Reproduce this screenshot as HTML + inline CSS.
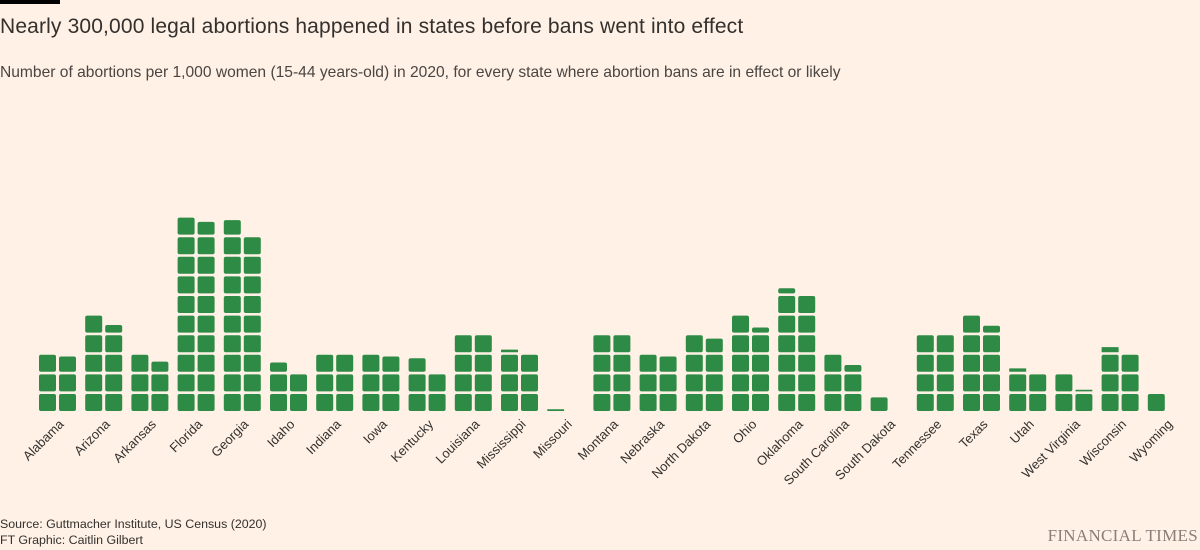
<!DOCTYPE html>
<html><head><meta charset="utf-8"><style>
body{margin:0;background:#fff1e5;font-family:"Liberation Sans",sans-serif;color:#33302e}
#wrap{position:relative;width:1200px;height:550px;overflow:hidden}
.t{position:absolute;white-space:nowrap}
</style></head><body>
<div id="wrap">
<div class="t" style="left:0;top:0;width:60px;height:4px;background:#000"></div>
<div class="t" style="left:0;top:15px;font-size:21px;letter-spacing:0.15px;color:#33302e">Nearly 300,000 legal abortions happened in states before bans went into effect</div>
<div class="t" style="left:0;top:64px;font-size:15.6px;color:#4a4542">Number of abortions per 1,000 women (15-44 years-old) in 2020, for every state where abortion bans are in effect or likely</div>
<svg id="chart" width="1200" height="550" style="position:absolute;left:0;top:0"></svg>
<div class="t" style="left:0;top:517px;font-size:12.4px">Source: Guttmacher Institute, US Census (2020)</div>
<div class="t" style="left:0;top:533px;font-size:12.4px">FT Graphic: Caitlin Gilbert</div>
<div class="t" style="right:2px;top:526px;font-family:'Liberation Serif',serif;font-size:17px;color:#8a7f78;letter-spacing:0.3px">FINANCIAL TIMES</div>
</div>
<script>
const states=["Alabama","Arizona","Arkansas","Florida","Georgia","Idaho","Indiana","Iowa","Kentucky","Louisiana","Mississippi","Missouri","Montana","Nebraska","North Dakota","Ohio","Oklahoma","South Carolina","South Dakota","Tennessee","Texas","Utah","West Virginia","Wisconsin","Wyoming"];
const rates=[5.9,9.45,5.6,19.75,18.85,4.55,6.0,5.9,4.8,8.0,6.15,0.1,8.0,5.9,7.8,9.3,12.3,5.4,0.8,8.0,9.4,4.2,3.1,6.3,1.0];
const svg=document.getElementById('chart');
const NS='http://www.w3.org/2000/svg';
const x0=39,pitch=46.2,sq=17,colGap=20,rowP=19.6,base=411;
function xPos(i,col){return x0+i*pitch+col*colGap;}
function yTop(row,frac){return base-row*rowP-sq*frac;}
states.forEach((s,i)=>{
  const v=rates[i];
  const n=Math.ceil(v-1e-9);
  for(let k=0;k<n;k++){
    const frac=Math.min(1,v-k);
    const row=Math.floor(k/2),col=k%2;
    const r=document.createElementNS(NS,'rect');
    r.setAttribute('x',xPos(i,col));
    r.setAttribute('y',yTop(row,frac));
    r.setAttribute('width',sq);
    r.setAttribute('height',Math.max(1,sq*frac));
    r.setAttribute('rx',frac>0.3?2:0.5);
    r.setAttribute('fill','#2e8b46');
    
    
    svg.appendChild(r);
  }
  const cx=xPos(i,0)+sq+1.5;
  const t=document.createElementNS(NS,'text');
  t.setAttribute('transform','translate('+(cx+7)+',425) rotate(-45)');
  t.setAttribute('text-anchor','end');
  t.setAttribute('font-size','13');
  t.setAttribute('fill','#33302e');
  t.setAttribute('font-family','Liberation Sans, sans-serif');
  t.textContent=s;
  
  
  svg.appendChild(t);
});
</script>
</body></html>
